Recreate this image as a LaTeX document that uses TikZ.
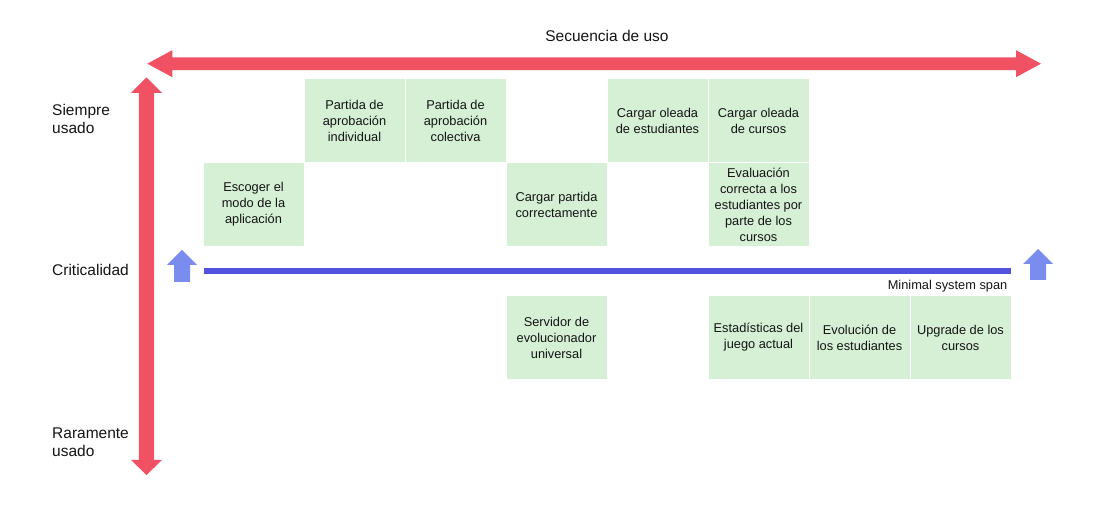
\documentclass[tikz,border=0pt]{standalone}
\usepackage{fontspec}
\setmainfont{Liberation Sans}
\definecolor{redarrow}{RGB}{240,82,100}
\definecolor{blueline}{RGB}{82,82,220}
\definecolor{bluearrow}{RGB}{122,140,238}
\definecolor{boxgreen}{RGB}{213,240,213}
\definecolor{txt}{RGB}{20,20,20}
\begin{document}
\begin{tikzpicture}[x=1pt,y=-1pt,
  card/.style={fill=boxgreen,draw=none,minimum width=100pt,minimum height=83pt,
    inner sep=0pt,align=center,text=txt,font=\fontsize{12.8}{16}\selectfont},
  axislabel/.style={inner sep=0pt,text=txt,font=\fontsize{15.5}{18}\selectfont},
  spanlabel/.style={inner sep=0pt,text=txt,font=\fontsize{12.8}{15}\selectfont}]
\useasboundingbox (0,0) rectangle (1112,518);

% red horizontal double arrow
\fill[redarrow] (147.3,63.7) -- (172.3,50.2) -- (172.3,57.3) -- (1016,57.3) -- (1016,50.2)
  -- (1041,63.7) -- (1016,77.2) -- (1016,70.1) -- (172.3,70.1) -- (172.3,77.2) -- cycle;
% red vertical double arrow
\fill[redarrow] (146.5,77.5) -- (162,93) -- (154.2,93) -- (154.2,460) -- (162,460)
  -- (146.5,475) -- (131,460) -- (138.8,460) -- (138.8,93) -- (131,93) -- cycle;

% blue up arrows
\fill[bluearrow] (182,250) -- (197,265) -- (190,265) -- (190,282) -- (174,282) -- (174,265) -- (167,265) -- cycle;
\fill[bluearrow] (1038,249) -- (1053,264) -- (1046,264) -- (1046,280) -- (1030,280) -- (1030,264) -- (1023,264) -- cycle;

% minimal system span line
\coordinate (spanL) at (204,271);
\coordinate (spanR) at (1011,271);
\draw[blueline,line width=5.5pt] (spanL) -- (spanR);
\node[spanlabel,anchor=base east] (span) at (1007.5,290) {Minimal system span};

% labels
\node[axislabel,anchor=base] (seq) at (607,41.5) {Secuencia de uso};
\node[axislabel,anchor=base west] (siempre1) at (52,115.7) {Siempre};
\node[axislabel,anchor=base west] (siempre2) at (52,133.2) {usado};
\node[axislabel,anchor=base west] (crit) at (52,275.7) {Criticalidad};
\node[axislabel,anchor=base west] (rara1) at (52,439) {Raramente};
\node[axislabel,anchor=base west] (rara2) at (52,456.7) {usado};

% row 1
\node[card] (p1) at (354.5,120.5) {Partida de\\aprobación\\individual};
\node[card] (p2) at (455.5,120.5) {Partida de\\aprobación\\colectiva};
\node[card] (c1) at (657.5,120.5) {Cargar oleada\\de estudiantes};
\node[card] (c2) at (758.5,120.5) {Cargar oleada\\de cursos};
% row 2
\node[card] (e1) at (253.5,204.5) {Escoger el\\modo de la\\aplicación};
\node[card] (cp) at (556.5,204.5) {Cargar partida\\correctamente};
\node[card] (ev) at (758.5,204.5) {Evaluación\\correcta a los\\estudiantes por\\parte de los\\cursos};
% row 3
\node[card] (sv) at (556.5,337.5) {Servidor de\\evolucionador\\universal};
\node[card] (es) at (758.5,337.5) {Estadísticas del\\juego actual};
\node[card] (eo) at (859.5,337.5) {Evolución de\\los estudiantes};
\node[card] (up) at (960.5,337.5) {Upgrade de los\\cursos};
\end{tikzpicture}
\end{document}
